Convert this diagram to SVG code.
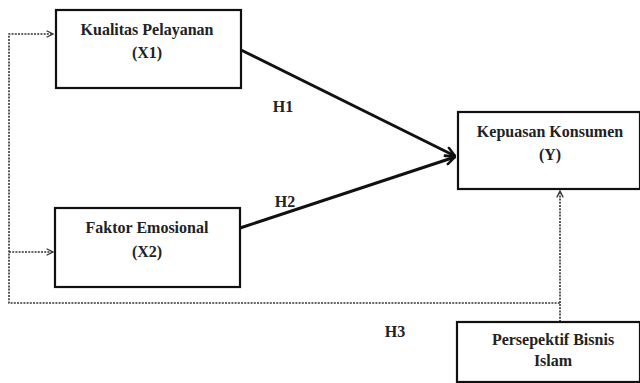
<svg xmlns="http://www.w3.org/2000/svg" width="640" height="383" viewBox="0 0 640 383">
<style>
.box{fill:#fff;stroke:#111;stroke-width:2.2}
.t{font-family:"Liberation Serif","Times New Roman","DejaVu Serif",serif;font-weight:bold;font-size:16px;fill:#222;text-anchor:middle}
.solid{stroke:#111;stroke-width:3;fill:none}
.dot{stroke:#333;stroke-width:1.6;fill:none;stroke-dasharray:2 1.2}
</style>
<defs>
<marker id="ah" viewBox="0 0 12 12" refX="11" refY="6" markerWidth="12" markerHeight="12" markerUnits="userSpaceOnUse" orient="auto">
<path d="M1,1 L11,6 L1,11" fill="none" stroke="#111" stroke-width="2.5"/>
</marker>
<marker id="ahs" viewBox="0 0 10 10" refX="9" refY="5" markerWidth="8" markerHeight="8" markerUnits="userSpaceOnUse" orient="auto">
<path d="M1,1 L9,5 L1,9" fill="none" stroke="#333" stroke-width="1.6"/>
</marker>
</defs>
<rect width="640" height="383" fill="#fff"/>
<g id="connectors">
<line class="solid" x1="241" y1="50" x2="455" y2="156" marker-end="url(#ah)"/>
<line class="solid" x1="240" y1="228" x2="455" y2="157" marker-end="url(#ah)"/>
<polyline class="dot" points="560,322 560,303 9,303 9,34 53,34" marker-end="url(#ahs)"/>
<line class="dot" x1="9" y1="252" x2="53" y2="252" marker-end="url(#ahs)"/>
<line class="dot" x1="560" y1="303" x2="560" y2="191" marker-end="url(#ahs)"/>
<text class="t" x="283" y="112">H1</text>
<text class="t" x="285" y="207">H2</text>
<text class="t" x="395" y="337">H3</text>
</g>
<g id="x1">
<rect class="box" x="56" y="10" width="185" height="78"/>
<text class="t" x="147" y="35">Kualitas Pelayanan</text>
<text class="t" x="147" y="58">(X1)</text>
</g>
<g id="x2">
<rect class="box" x="55" y="208" width="185" height="79"/>
<text class="t" x="147" y="233">Faktor Emosional</text>
<text class="t" x="147" y="257">(X2)</text>
</g>
<g id="y">
<rect class="box" x="458" y="112" width="182" height="77"/>
<text class="t" x="550" y="137">Kepuasan Konsumen</text>
<text class="t" x="550" y="160">(Y)</text>
</g>
<g id="islam">
<rect class="box" x="457" y="322" width="183" height="60"/>
<text class="t" x="553" y="345">Persepektif Bisnis</text>
<text class="t" x="553" y="366">Islam</text>
</g>
</svg>
